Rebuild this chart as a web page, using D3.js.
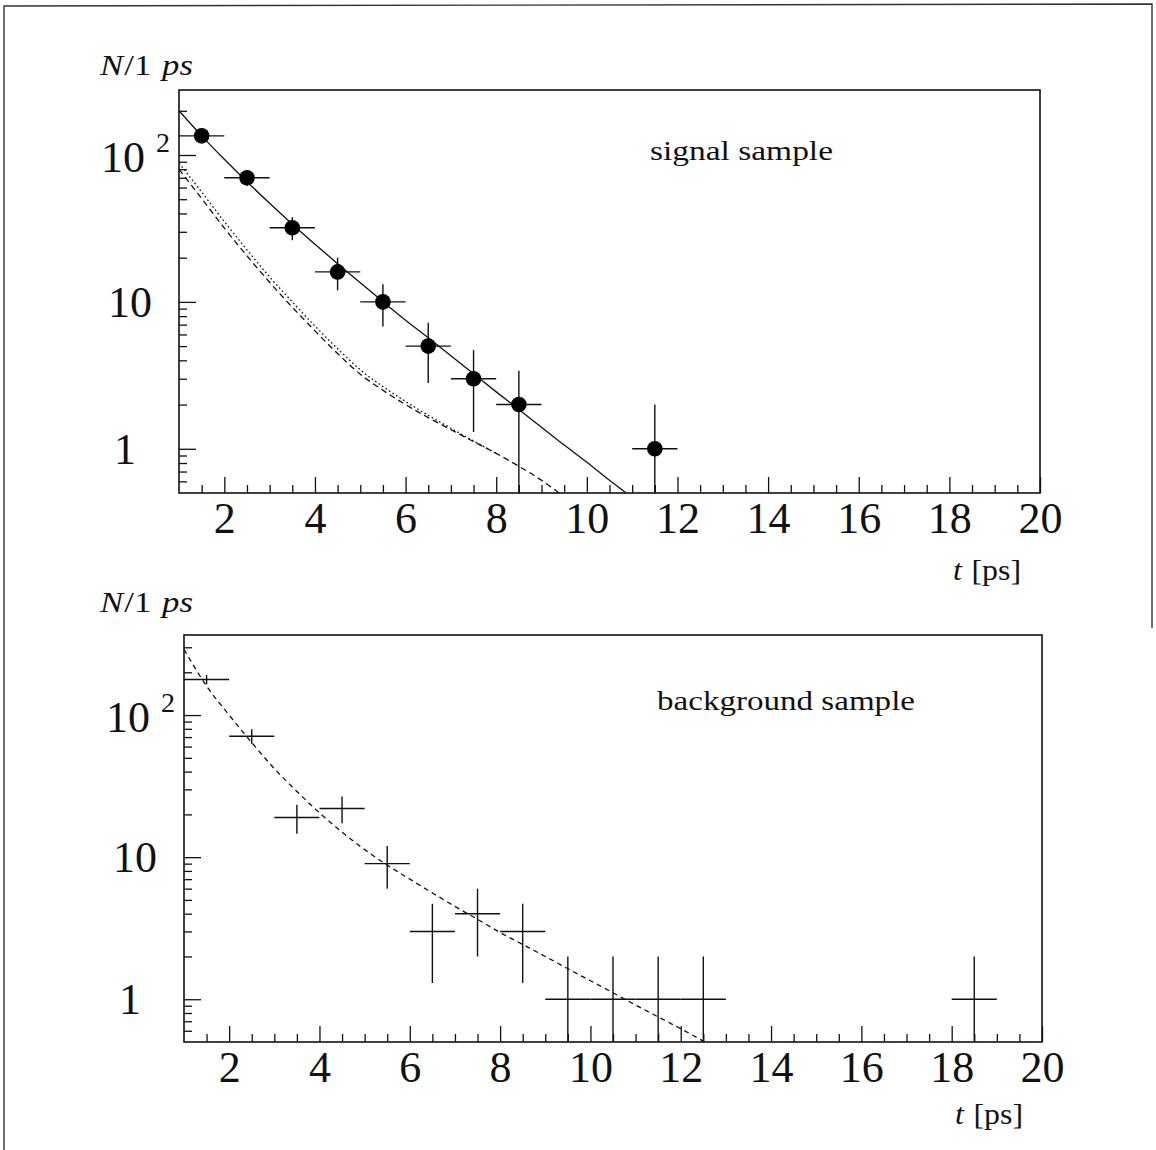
<!DOCTYPE html>
<html>
<head>
<meta charset="utf-8">
<script src="https://cdn.jsdelivr.net/npm/d3@7"></script>
<style>
  body { margin: 0; background: #fff; }
  svg { display: block; }
  svg text { font-family: "Liberation Serif", "Times New Roman", Tinos, "Noto Serif", "DejaVu Serif", serif !important; fill: #111; }
</style>
</head>
<body>
<svg id="fig" width="1156" height="1150"></svg>
<script>
// ---- signal sample: counts per 1 ps bin ----
const sigT      = [1.5, 2.5, 3.5, 4.5, 5.5, 6.5, 7.5, 8.5, 11.5];
const sigN      = [135, 70, 32, 16, 10, 5, 3, 2, 1];
const sigErrUp  = [11.6, 8.4, 5.7, 4.0, 3.2, 2.2, 1.7, 1.4, 1.0];
const sigErrDn  = [11.6, 8.4, 5.7, 4.0, 3.2, 2.2, 1.7, 2.0, 1.0];

// total fit (solid)
const fitTotT = [1, 1.5, 2, 2.5, 3, 3.5, 4, 4.5, 5, 5.5, 6, 6.5, 7, 7.5, 8, 8.5, 9, 9.5, 10, 10.5, 10.87];
const fitTotN = [200, 135, 93.5, 65.8, 46.9, 33.8, 24.7, 18.2, 13.5, 10.05, 7.5, 5.7, 4.3, 3.24, 2.44, 1.85, 1.4, 1.06, 0.81, 0.61, 0.5];

// background components under the signal (dashed / dotted)
const compDashT = [1, 1.5, 2, 2.5, 3, 3.5, 4, 4.5, 5, 5.5, 6, 6.5, 7, 7.5, 8, 8.5, 9, 9.39];
const compDashN = [80, 50.5, 31.8, 20.6, 13.6, 9.2, 6.35, 4.45, 3.22, 2.5, 2.0, 1.63, 1.35, 1.12, 0.93, 0.76, 0.61, 0.5];
const compDotT  = [1, 1.5, 2, 2.5, 3, 3.5, 4, 4.5, 5, 5.5, 6, 6.5, 7, 7.5, 8];
const compDotN  = [88, 56, 35.2, 22.6, 14.8, 10.0, 6.85, 4.8, 3.45, 2.65, 2.1, 1.69, 1.38, 1.13, 0.93];

// ---- background sample ----
const bkgT   = [1.5, 2.5, 3.5, 4.5, 5.5, 6.5, 7.5, 8.5, 9.5, 10.5, 11.5, 12.5, 18.5];
const bkgN   = [178, 71, 19, 22, 9, 3, 4, 3, 1, 1, 1, 1, 1];
const bkgErr = [13.3, 8.4, 4.4, 4.7, 3.0, 1.7, 2.0, 1.7, 1.0, 1.0, 1.0, 1.0, 1.0];

const bkgFitT = [1, 1.5, 2, 2.5, 3, 3.5, 4, 4.5, 5, 5.5, 6, 6.5, 7, 7.5, 8, 8.5, 9, 9.5, 10, 10.5, 11, 11.5, 12, 12.5];
const bkgFitN = [290, 160, 100, 64, 42, 29, 20.5, 15, 11.3, 8.8, 7.0, 5.6, 4.5, 3.65, 2.95, 2.43, 2.0, 1.64, 1.35, 1.11, 0.91, 0.75, 0.62, 0.507];

// axis ticks and labels
const xMajor = [2, 4, 6, 8, 10, 12, 14, 16, 18, 20];
const xMinor = d3.range(1.5, 20, 0.5).filter(v => v % 2 !== 0);
const yMajor = [1, 10, 100];
const yMinorAll = [0.6, 0.7, 0.8, 0.9, 2, 3, 4, 5, 6, 7, 8, 9, 20, 30, 40, 50, 60, 70, 80, 90, 200, 300];

const SERIF = '"Liberation Serif", "Times New Roman", Tinos, "Noto Serif", "DejaVu Serif", serif';
const svg = d3.select("#fig");

// page frame (open at the bottom)
svg.append("path")
  .attr("d", "M4,1150 L4,6 L1152,4 L1152,628")
  .attr("fill", "none").attr("stroke", "#333").attr("stroke-width", 1.4);

function serifText(sel, size) {
  return sel.attr("font-family", SERIF).style("font-family", SERIF).attr("font-size", size);
}

function panel(cfg) {
  const g = svg.append("g");
  const x = d3.scaleLinear().domain([1, 20]).range([cfg.x0, cfg.x1]);
  const y = d3.scaleLog().domain(cfg.yDom).range([cfg.y1, cfg.y0]);

  const clipId = "clip" + cfg.id;
  svg.append("clipPath").attr("id", clipId).append("rect")
    .attr("x", cfg.x0).attr("y", cfg.y0)
    .attr("width", cfg.x1 - cfg.x0).attr("height", cfg.y1 - cfg.y0);

  // x axis: major and minor ticks pointing into the plot
  const xaMinor = d3.axisBottom(x).tickValues(xMinor).tickSize(-8).tickSizeOuter(0).tickFormat("");
  const xaMajor = d3.axisBottom(x).tickValues(xMajor).tickSize(-16).tickSizeOuter(0).tickPadding(9);
  g.append("g").attr("transform", `translate(0,${cfg.y1})`).call(xaMinor);
  const gx = g.append("g").attr("transform", `translate(0,${cfg.y1})`).call(xaMajor)
    .attr("font-family", SERIF);
  serifText(gx.selectAll("text"), 44).attr("fill", "#111");

  // y axis
  const yMinor = yMinorAll.filter(v => v > cfg.yDom[0] && v < cfg.yDom[1]);
  const yaMinor = d3.axisLeft(y).tickValues(yMinor).tickSize(-8).tickSizeOuter(0).tickFormat("");
  const yaMajor = d3.axisLeft(y).tickValues(yMajor).tickSize(-17).tickSizeOuter(0).tickFormat("");
  g.append("g").attr("transform", `translate(${cfg.x0},0)`).call(yaMinor);
  g.append("g").attr("transform", `translate(${cfg.x0},0)`).call(yaMajor);
  g.selectAll(".domain").remove();
  g.selectAll(".tick line").attr("stroke", "#111").attr("stroke-width", 1.3);

  // y labels: 1, 10, 10^2
  const lab = g.append("g");
  serifText(lab.append("text"), 44).attr("x", cfg.x0 - 43).attr("y", y(1) + 15)
    .attr("text-anchor", "end").text("1");
  serifText(lab.append("text"), 44).attr("x", cfg.x0 - 27).attr("y", y(10) + 15)
    .attr("text-anchor", "end").text("10");
  const t100 = serifText(lab.append("text"), 44).attr("x", cfg.x0 - 78).attr("y", y(100) + 17);
  t100.append("tspan").text("10");
  t100.append("tspan").attr("dx", 11).attr("dy", -20).attr("font-size", 28).text("2");

  // frame
  g.append("rect").attr("x", cfg.x0).attr("y", cfg.y0)
    .attr("width", cfg.x1 - cfg.x0).attr("height", cfg.y1 - cfg.y0)
    .attr("fill", "none").attr("stroke", "#111").attr("stroke-width", 1.6);

  // y title N/1 ps
  const yt = serifText(g.append("text"), 29).attr("x", 100).attr("y", cfg.titleY)
    .attr("textLength", 93).attr("lengthAdjust", "spacingAndGlyphs");
  yt.append("tspan").attr("font-style", "italic").text("N");
  yt.append("tspan").attr("dx", 1).text("/1");
  yt.append("tspan").attr("dx", 9).attr("font-style", "italic").text("ps");

  // x title t [ps]
  const xt = serifText(g.append("text"), 30).attr("x", cfg.x1 - 87).attr("y", cfg.y1 + cfg.xtOff)
    .attr("textLength", 68).attr("lengthAdjust", "spacingAndGlyphs");
  xt.append("tspan").attr("font-style", "italic").text("t");
  xt.append("tspan").attr("dx", 9).text("[ps]");

  // sample label
  serifText(g.append("text"), 28).attr("x", cfg.labelX).attr("y", cfg.labelY)
    .attr("textLength", cfg.labelW).attr("lengthAdjust", "spacingAndGlyphs")
    .text(cfg.label);

  const plot = g.append("g").attr("clip-path", `url(#${clipId})`);
  return { g, plot, x, y };
}

function curve(p, ts, ns, dash) {
  const line = d3.line().x((d, i) => p.x(ts[i])).y(d => p.y(d)).curve(d3.curveMonotoneX);
  p.plot.append("path").attr("d", line(ns))
    .attr("fill", "none").attr("stroke", "#111").attr("stroke-width", 1.3)
    .attr("stroke-dasharray", dash || null);
}

function errBars(p, ts, ns, up, dn) {
  const lo = p.y.domain()[0];
  ts.forEach((t, i) => {
    p.plot.append("line")
      .attr("x1", p.x(t - 0.5)).attr("x2", p.x(t + 0.5))
      .attr("y1", p.y(ns[i])).attr("y2", p.y(ns[i]))
      .attr("stroke", "#111").attr("stroke-width", 1.4);
    const yl = ns[i] - dn[i];
    p.plot.append("line")
      .attr("x1", p.x(t)).attr("x2", p.x(t))
      .attr("y1", p.y(ns[i] + up[i]))
      .attr("y2", yl > lo ? p.y(yl) : p.y(lo))
      .attr("stroke", "#111").attr("stroke-width", 1.4);
  });
}

// signal panel
const pTop = panel({ id: "top", x0: 179, x1: 1040, y0: 90, y1: 493, yDom: [0.5, 277],
  titleY: 75, xtOff: 87, label: "signal sample", labelX: 650, labelY: 160, labelW: 183 });
curve(pTop, compDotT, compDotN, "1.6,2.6");
curve(pTop, compDashT, compDashN, "6,4");
curve(pTop, fitTotT, fitTotN, null);
errBars(pTop, sigT, sigN, sigErrUp, sigErrDn);
pTop.g.append("g").selectAll("circle").data(sigT).join("circle")
  .attr("cx", d => pTop.x(d)).attr("cy", (d, i) => pTop.y(sigN[i]))
  .attr("r", 7.8).attr("fill", "#000");

// background panel
const pBot = panel({ id: "bot", x0: 184, x1: 1042, y0: 635, y1: 1042, yDom: [0.5, 366],
  titleY: 612, xtOff: 82, label: "background sample", labelX: 657, labelY: 710, labelW: 258 });
curve(pBot, bkgFitT, bkgFitN, "5,4");
errBars(pBot, bkgT, bkgN, bkgErr, bkgErr);
</script>
</body>
</html>
